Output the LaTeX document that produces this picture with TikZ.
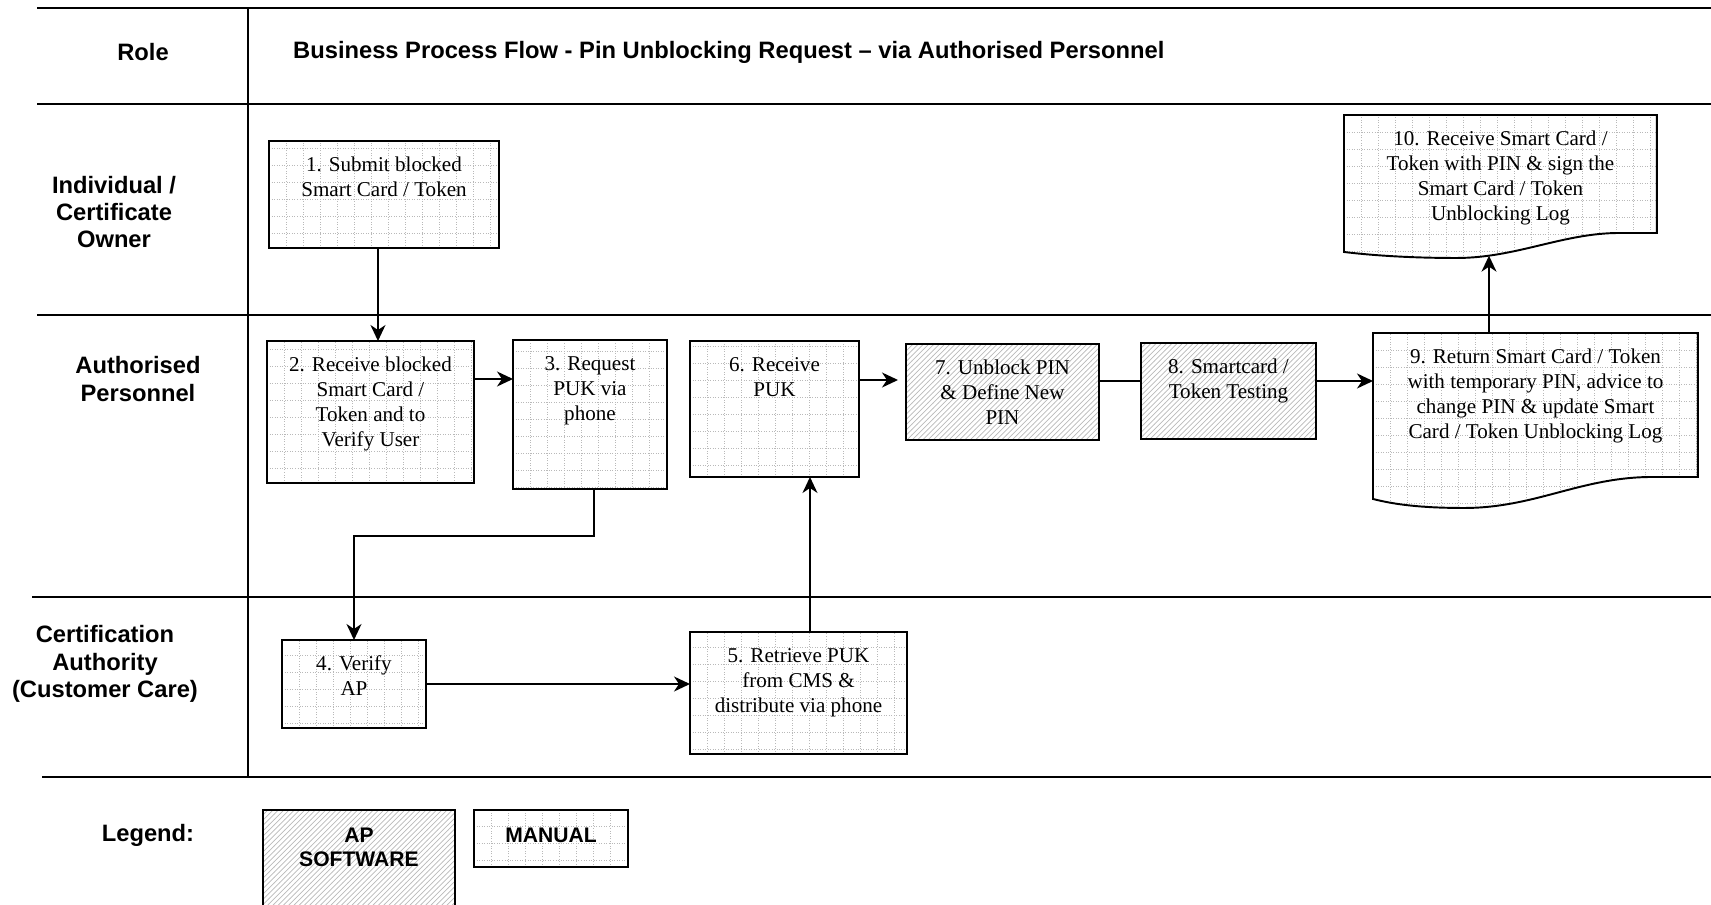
\documentclass[tikz,border=0pt]{standalone}
\usepackage{fontspec}
\setmainfont{Liberation Serif}
\setsansfont{Liberation Sans}
\usetikzlibrary{arrows.meta,patterns,calc,intersections,backgrounds}

\newcommand{\btext}[3]{\parbox[c][#2][t]{#1}{\centering\rule{0pt}{17.5pt}#3}}
\newcommand{\ltext}[3]{\parbox[c][#2][t]{#1}{\centering\rule{0pt}{18.4pt}#3}}

\begin{document}
\begin{tikzpicture}[x=0.02cm,y=-0.02cm,
  lane/.style={line width=1.1pt},
  lbl/.style={font=\sffamily\bfseries\fontsize{13.5}{15.6}\selectfont, align=center},
  gridfill/.style={path picture={\draw[gray!55, densely dotted, line width=0.45pt,
      shift={(path picture bounding box.north west)}, step=0.34cm]
      (path picture bounding box.south west) grid (path picture bounding box.north east);}},
  boxfont/.style={font=\fontsize{12}{14.2}\selectfont},
  manual/.style={draw, line width=1.1pt, inner sep=0pt, outer sep=0pt, gridfill, boxfont, anchor=north west},
  apsw/.style={draw, line width=1.1pt, inner sep=0pt, outer sep=0pt, pattern=north east lines, pattern color=gray!55, boxfont, anchor=north west},
  legfont/.style={font=\sffamily\bfseries\fontsize{12}{13.6}\selectfont},
  doctext/.style={inner sep=0pt, outer sep=0pt, boxfont, anchor=north west},
  docline/.style={line width=1.1pt, gridfill},
  con/.style={line width=1pt},
  arr/.style={line width=1pt, -{Stealth[length=0.32cm,width=0.3cm,inset=0.1cm]}}
]
\clip (0,0) rectangle (1711,904);

% swimlane frame
\draw[lane] (37,8) -- (1711,8);
\draw[lane] (37,104) -- (1711,104);
\draw[lane] (37,315) -- (1711,315);
\draw[lane] (32,597) -- (1711,597);
\draw[lane] (42,777) -- (1711,777);
\draw[lane] (248,8) -- (248,777);

% headings
\node[lbl] (role) at (143,52) {Role};
\node[lbl, anchor=west] (title) at (287,52) {Business Process Flow - Pin Unblocking Request – via Authorised Personnel};
\node[lbl] (lane1) at (114,212) {Individual /\\Certificate\\Owner};
\node[lbl] (lane2) at (138,379) {Authorised\\Personnel};
\node[lbl] (lane3) at (105,664) {Certification\\Authority\\(Customer Care)};
\node[lbl] (legend) at (148,835) {Legend:};

% process boxes
\node[manual] (n1) at (269,141) {\btext{4.6cm}{2.14cm}{1. Submit blocked\\Smart Card / Token}};
\node[manual] (n2) at (267,341) {\btext{4.14cm}{2.84cm}{2. Receive blocked\\Smart Card /\\Token and to\\Verify User}};
\node[manual] (n3) at (513,340) {\btext{3.08cm}{2.98cm}{3. Request\\PUK via\\phone}};
\node[manual] (n4) at (282,640) {\btext{2.88cm}{1.76cm}{4. Verify\\AP}};
\node[manual] (n5) at (690,632) {\btext{4.34cm}{2.44cm}{5. Retrieve PUK\\from CMS \&\\distribute via phone}};
\node[manual] (n6) at (690,341) {\btext{3.38cm}{2.72cm}{6. Receive\\PUK}};
\node[apsw] (n7) at (906,344) {\btext{3.86cm}{1.92cm}{7. Unblock PIN\\\& Define New\\PIN}};
\node[apsw] (n8) at (1141,343) {\btext{3.5cm}{1.92cm}{8. Smartcard /\\Token Testing}};

% document shapes
\node[doctext] (n9) at (1373,333) {\btext{6.5cm}{3.32cm}{9. Return Smart Card / Token\\with temporary PIN, advice to\\change PIN \& update Smart\\Card / Token Unblocking Log}};
\node[doctext] (n10) at (1344,115) {\btext{6.26cm}{2.74cm}{10. Receive Smart Card /\\Token with PIN \& sign the\\Smart Card / Token\\Unblocking Log}};
\begin{pgfonlayer}{background}
\draw[docline] (n9.south west) -- (n9.north west) -- (n9.north east) -- ($(n9.south east)+(0,-22)$)
  -- ($(n9.south west)!0.86!(n9.south east)+(0,-22)$)
  .. controls ($(n9.south west)!0.64!(n9.south east)+(0,-22)$) and ($(n9.south west)!0.5!(n9.south east)+(0,9)$) .. ($(n9.south west)!0.28!(n9.south east)+(0,9)$)
  .. controls ($(n9.south west)!0.14!(n9.south east)+(0,9)$) and ($(n9.south west)!0.06!(n9.south east)+(0,5)$) .. (n9.south west) -- cycle;
\draw[docline, name path global=c10] (n10.south west) -- (n10.north west) -- (n10.north east) -- ($(n10.south east)+(0,-19)$)
  -- ($(n10.south west)!0.88!(n10.south east)+(0,-19)$)
  .. controls ($(n10.south west)!0.7!(n10.south east)+(0,-19)$) and ($(n10.south west)!0.55!(n10.south east)+(0,6)$) .. ($(n10.south west)!0.36!(n10.south east)+(0,6)$)
  .. controls ($(n10.south west)!0.2!(n10.south east)+(0,6)$) and ($(n10.south west)!0.08!(n10.south east)+(0,3)$) .. (n10.south west) -- cycle;
\end{pgfonlayer}

% legend
\node[apsw, legfont] (lg1) at (263,810) {\ltext{3.84cm}{2.6cm}{AP\\SOFTWARE}};
\node[manual, legfont] (lg2) at (474,810) {\ltext{3.08cm}{1.14cm}{MANUAL}};

% connectors
\draw[arr] ([xshift=-0.12cm]n1.south) -- ([xshift=-0.12cm]n1.south |- n2.north);
\draw[arr] ([yshift=-0.76cm]n2.north east) -- ([yshift=-0.76cm]n2.north east -| n3.west);
\draw[arr] ([xshift=0.08cm]n3.south) -- ++(0,47) -| (n4.north);
\draw[arr] (n4.east) -- (n4.east -| n5.west);
\draw[arr] ([xshift=2.4cm]n5.north west) -- ([xshift=2.4cm]n6.south west);
\draw[arr, shorten >=0.16cm] ([yshift=-0.78cm]n6.north east) -- ([yshift=-0.78cm]n6.north east -| n7.west);
\draw[con] ([yshift=-0.74cm]n7.north east) -- ([yshift=-0.74cm]n7.north east -| n8.west);
\draw[arr] ([yshift=-0.76cm]n8.north east) -- ([yshift=-0.76cm]n8.north east -| n9.west);
\path[name path=v10] ([xshift=2.32cm]n9.north west) -- ++(0,-200);
\path[name intersections={of=c10 and v10, by=t10}];
\draw[arr] ([xshift=2.32cm]n9.north west) -- (t10);
\end{tikzpicture}
\end{document}
